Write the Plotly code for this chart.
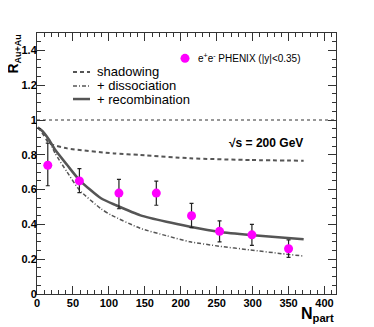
import plotly.graph_objects as go

# Data points (PHENIX e+e-, |y|<0.35)
npart_data = [15, 59, 114, 166, 215, 254, 299, 350]
raa_data = [0.74, 0.65, 0.58, 0.58, 0.45, 0.36, 0.34, 0.26]
err_up = [0.127, 0.07, 0.079, 0.069, 0.071, 0.06, 0.06, 0.051]
err_dn = [0.118, 0.067, 0.09, 0.07, 0.069, 0.06, 0.061, 0.049]

# Model curves
npart_shad = [1, 5, 10, 17, 42, 107, 144, 213, 297, 371]
raa_shad = [0.957, 0.94, 0.91, 0.866, 0.837, 0.808, 0.799, 0.78, 0.770, 0.766]

npart_diss = [1, 5, 10, 17, 25, 42, 59, 89, 103, 144, 180, 213, 253, 297, 340, 371]
raa_diss = [0.957, 0.945, 0.923, 0.88, 0.81, 0.70, 0.598, 0.49, 0.454, 0.377, 0.335, 0.30, 0.275, 0.253, 0.232, 0.218]

npart_reco = [1, 5, 10, 17, 25, 42, 59, 89, 110, 144, 180, 213, 253, 297, 340, 371]
raa_reco = [0.957, 0.945, 0.925, 0.885, 0.83, 0.741, 0.655, 0.55, 0.51, 0.452, 0.415, 0.387, 0.358, 0.339, 0.325, 0.314]

curve_names = ["shadowing", "+ dissociation", "+ recombination"]
data_name = "e<sup>+</sup>e<sup>-</sup> PHENIX (|y|<0.35)"

line_col = "#555555"
styles = [dict(color=line_col, width=2, dash="4px,3px"),
          dict(color=line_col, width=1.5, dash="4px,2px,1px,2px"),
          dict(color=line_col, width=2.5)]

fig = go.Figure()
for xs, ys, nm, st in zip([npart_shad, npart_diss, npart_reco], [raa_shad, raa_diss, raa_reco],
                          curve_names, styles):
    fig.add_trace(go.Scatter(x=xs, y=ys, mode="lines", name=nm,
                             line=dict(shape="spline", smoothing=0.6, **st), showlegend=False))
fig.add_trace(go.Scatter(x=npart_data, y=raa_data, mode="markers", name=data_name,
                         marker=dict(color="#ff00ff", size=9),
                         error_y=dict(type="data", symmetric=False, array=err_up, arrayminus=err_dn,
                                      color="#222222", thickness=1.2, width=2),
                         showlegend=False))

fig.add_shape(type="line", xref="paper", x0=0, x1=1, yref="y", y0=1, y1=1,
              line=dict(color="#777777", width=1.5, dash="dot"), layer="below")

# Legend (drawn in paper coordinates)
leg_y = [0.8506, 0.797, 0.747]
for yy, nm, st in zip(leg_y, curve_names, styles):
    fig.add_shape(type="line", xref="paper", yref="paper", x0=0.1204, x1=0.1773, y0=yy, y1=yy, line=st)
    fig.add_annotation(x=0.194, y=yy, xref="paper", yref="paper", text=nm, showarrow=False,
                       xanchor="left", yanchor="middle",
                       font=dict(family="Liberation Sans", size=13, color="black"))
fig.add_shape(type="circle", xref="paper", yref="paper", xsizemode="pixel", ysizemode="pixel",
              xanchor=0.495, yanchor=0.903, x0=-4.5, x1=4.5, y0=-4.5, y1=4.5,
              fillcolor="#ff00ff", line=dict(width=0))
fig.add_annotation(x=0.5305, y=0.903, xref="paper", yref="paper", text=data_name, showarrow=False,
                   xanchor="left", yanchor="middle",
                   font=dict(family="Liberation Sans", size=10, color="black"))

fig.add_annotation(x=318, y=0.868, xref="x", yref="y", text="<b>√s = 200 GeV</b>",
                   showarrow=False, font=dict(family="Liberation Sans", size=12, color="black"))
fig.add_annotation(x=-0.08, y=1.0, xref="paper", yref="paper",
                   text="<b>R<sub><span style='font-size:9px'>Au+Au</span></sub></b>",
                   textangle=-90, showarrow=False, xanchor="center", yanchor="top",
                   font=dict(family="Liberation Sans", size=14, color="black"))
fig.add_annotation(x=1.0, y=-0.08, xref="paper", yref="paper", text="<b>N<sub>part</sub></b>",
                   showarrow=False, xanchor="right", yanchor="middle",
                   font=dict(family="Liberation Sans", size=16, color="black"))

tickfont = dict(family="Liberation Sans", size=11, color="black", weight="bold")
axis_common = dict(showgrid=False, zeroline=False, showline=True, linecolor="#333333", linewidth=1,
                   mirror="ticks", ticks="inside", tickcolor="#333333", tickfont=tickfont)

fig.update_xaxes(range=[0, 416], tick0=0, dtick=50, ticklen=8,
                 minor=dict(ticks="inside", dtick=10, ticklen=4, tickcolor="#333333"),
                 ticklabelstandoff=-1, **axis_common)
fig.update_yaxes(range=[0, 1.5], ticklen=8,
                 tickvals=[0, 0.2, 0.4, 0.6, 0.8, 1.0, 1.2, 1.4],
                 ticktext=["0", "0.2", "0.4", "0.6", "0.8", "1", "1.2", "1.4"],
                 minor=dict(ticks="inside", dtick=0.05, ticklen=4, tickcolor="#333333"),
                 ticklabelstandoff=-3, **axis_common)

# page body has an 8px default margin, so margins are offset accordingly
fig.update_layout(
    width=374, height=327,
    margin=dict(l=29, r=46, t=25, b=41),
    paper_bgcolor="white", plot_bgcolor="white",
    showlegend=False,
)

fig.write_html("out.html")
